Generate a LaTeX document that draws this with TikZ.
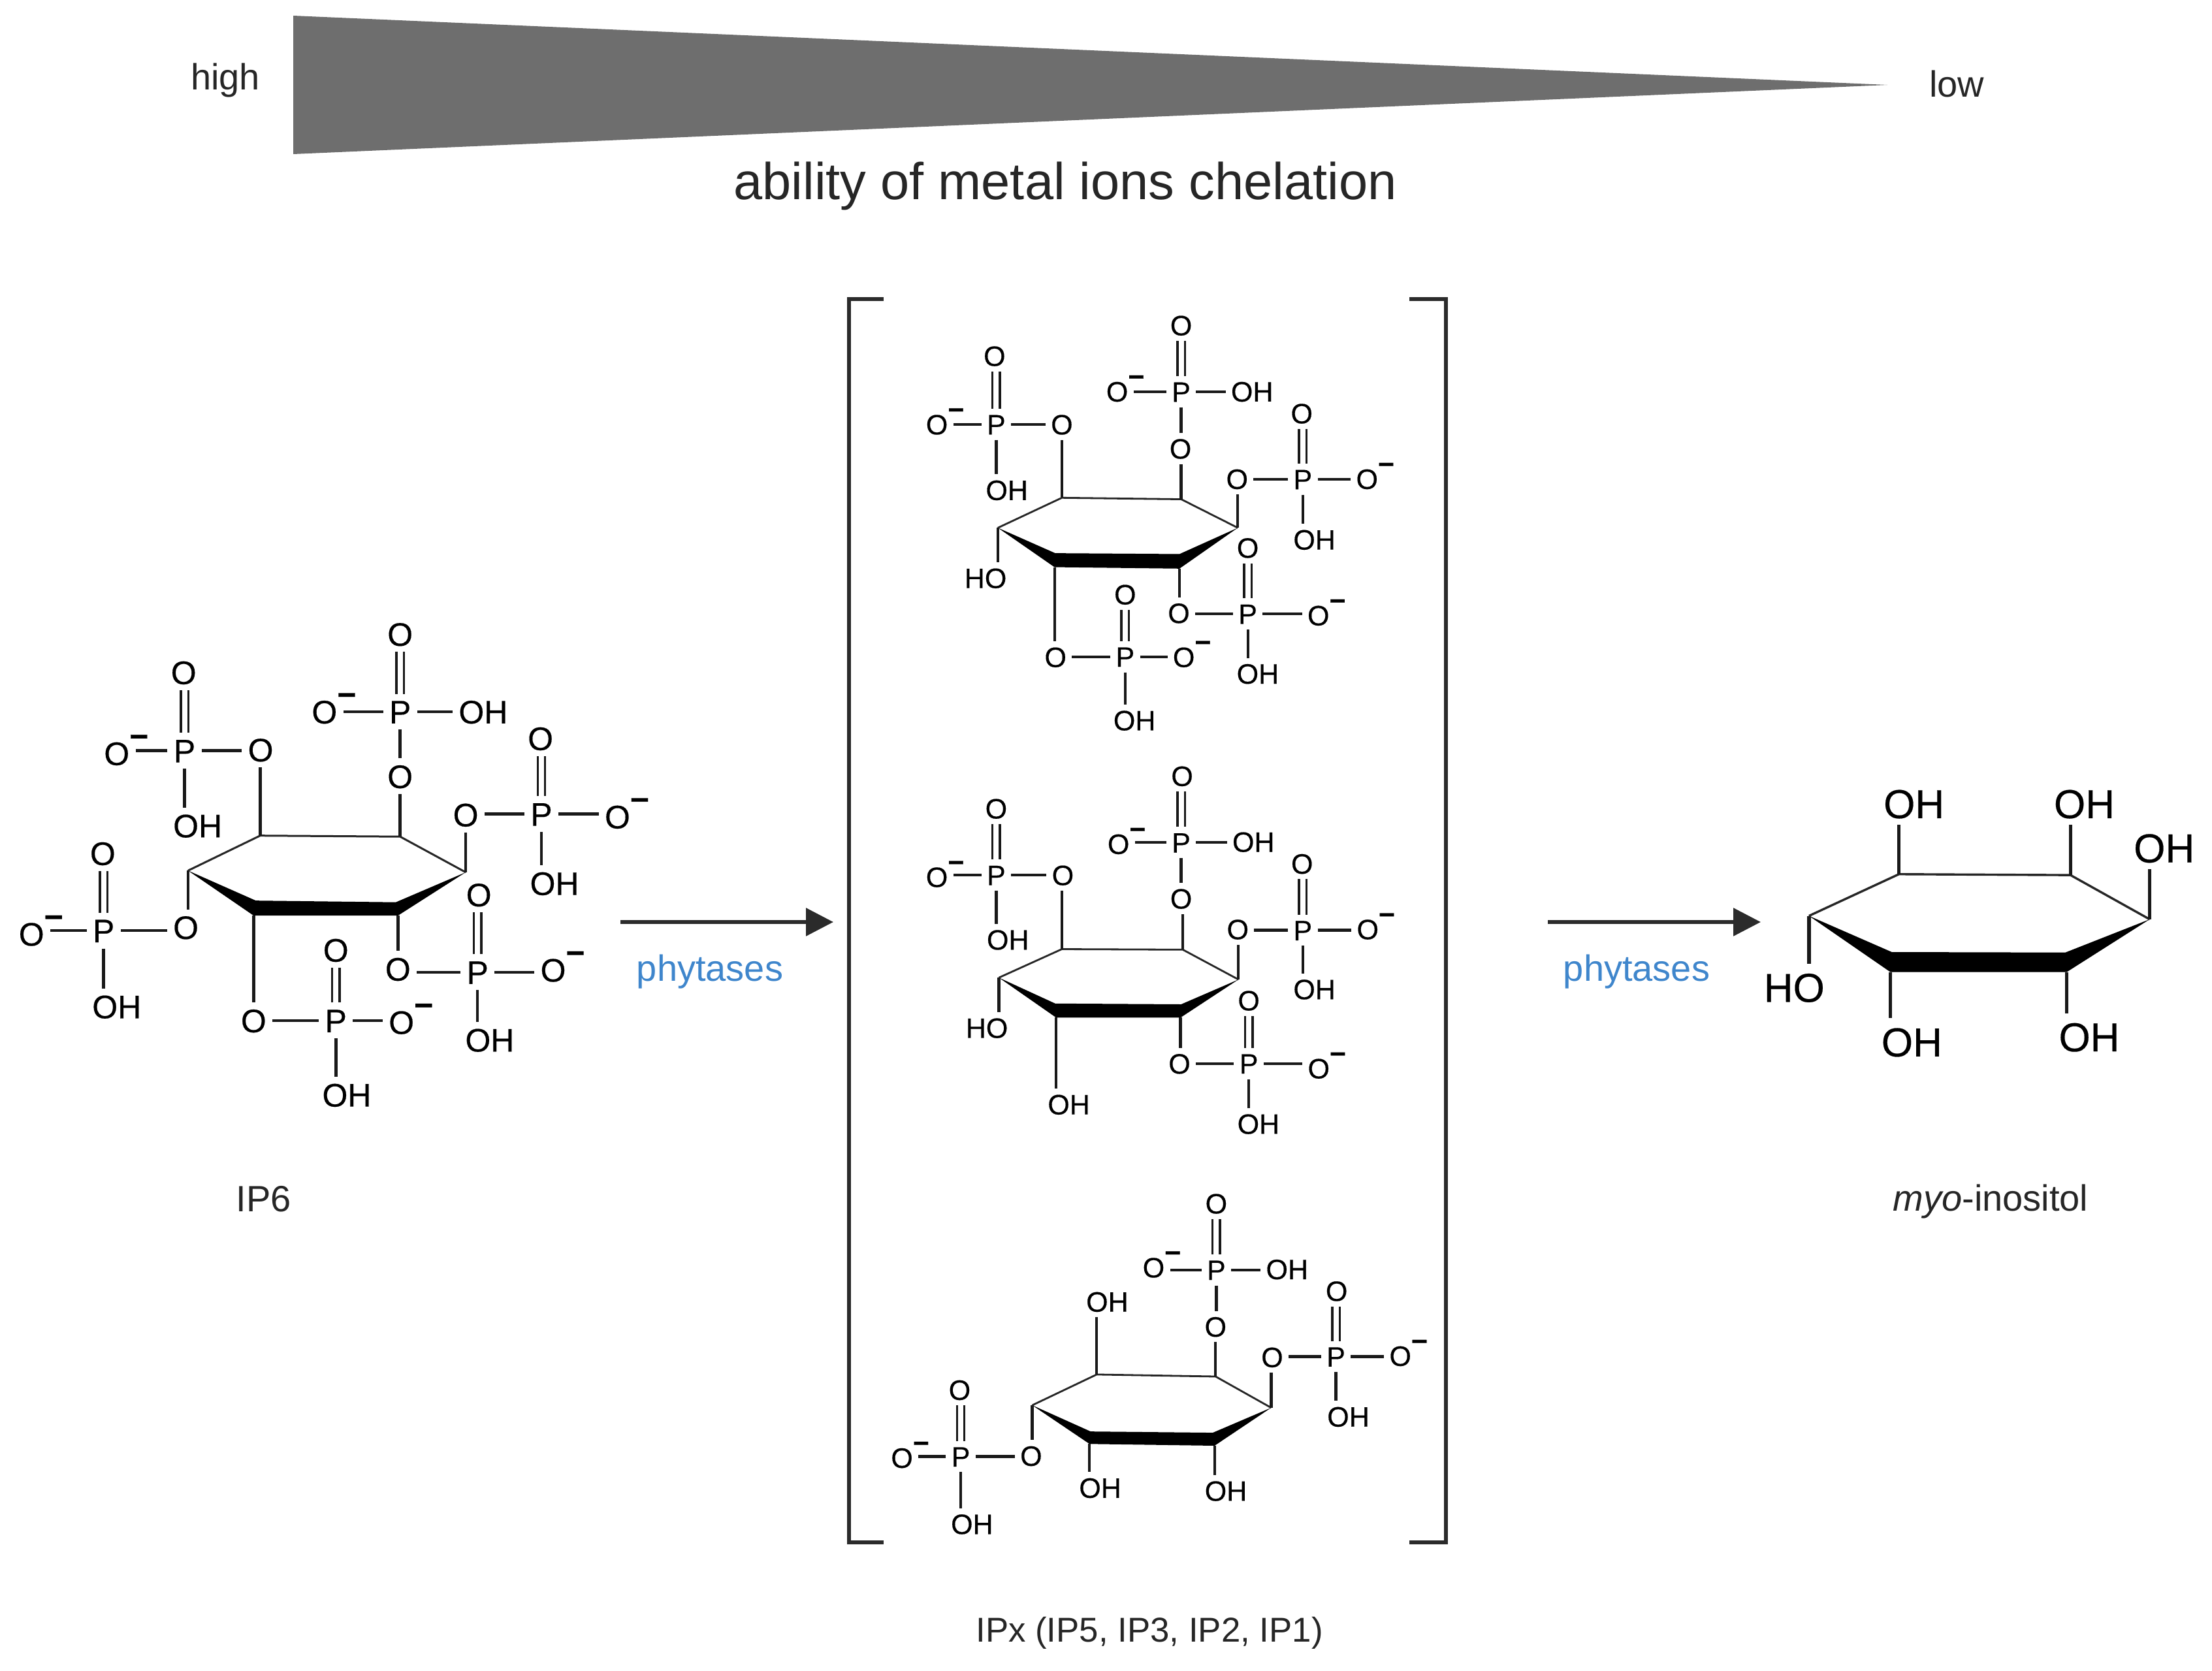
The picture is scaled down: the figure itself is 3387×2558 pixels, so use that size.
\documentclass[tikz,border=0pt]{standalone}
\usepackage{fontspec}
\setmainfont{Liberation Sans}
\newfontfamily\chemfont[FakeBold=0.35]{Liberation Sans}
\usetikzlibrary{arrows.meta}
\definecolor{wedgegray}{HTML}{6E6E6E}
\definecolor{inkdark}{HTML}{2B2B2B}
\definecolor{enzymeblue}{HTML}{3F86CC}
\newcommand\mOm{O\rlap{\raisebox{.54em}{\bfseries −}}}
\newcommand\mAtm[3]{\node[atom] (#1) at (#2) {#3};}
\newcommand\mH[2]{\draw[bond] (#1) -- (#1 -| #2);}
\newcommand\mV[2]{\draw[bond] (#1) -- (#1 |- #2);}
\newcommand\mD[2]{\draw[bond,double,double distance=4pt,line width=1.7pt] (#1) -- (#1 |- #2);}
% prefix, P, =O, left pos, left text, right pos, right text, bottom pos, bottom text
\newcommand\mPh[9]{%
  \mAtm{#1P}{#2}{P}\mAtm{#1Q}{#3}{O}\mAtm{#1L}{#4}{#5}\mAtm{#1R}{#6}{#7}\mAtm{#1B}{#8}{#9}%
  \mD{#1P}{#1Q.south}\mH{#1P}{#1L.east}\mH{#1P}{#1R.west}\mV{#1P}{#1B.north}}
% prefix, a, b, c, d, etop, ebot, fbot, ftop
\newcommand\mRing[9]{%
  \coordinate (#1a) at (#2);\coordinate (#1b) at (#3);\coordinate (#1c) at (#4);\coordinate (#1d) at (#5);%
  \coordinate (#1et) at (#6);\coordinate (#1eb) at (#7);\coordinate (#1fb) at (#8);\coordinate (#1ft) at (#9);%
  \draw[ringbond] (#1a) -- (#1b) -- (#1c) -- (#1d);%
  \fill[black] (#1a) -- (#1ft) -- (#1et) -- (#1d) -- (#1eb) -- (#1fb) -- cycle;}
\tikzset{
  sizeA/.style={atom/.style={inner sep=4.5pt,text height=18pt,text depth=0pt,font=\chemfont\fontsize{25}{25}\selectfont},
                bond/.style={line width=2.3pt,draw=black!90},ringbond/.style={line width=1.5pt,draw=black!85}},
  sizeB/.style={atom/.style={inner sep=4pt,text height=15.5pt,text depth=0pt,font=\chemfont\fontsize{21.5}{21.5}\selectfont},
                bond/.style={line width=2.1pt,draw=black!90},ringbond/.style={line width=1.4pt,draw=black!85}},
  sizeC/.style={atom/.style={inner sep=5pt,text height=24pt,text depth=0pt,font=\chemfont\fontsize{31}{31}\selectfont},
                bond/.style={line width=2.8pt,draw=black!90},ringbond/.style={line width=1.7pt,draw=black!85}},
  lab/.style={font=\fontsize{28}{28}\selectfont,text=black!85,inner sep=0pt},
  enz/.style={font=\fontsize{28}{28}\selectfont,text=enzymeblue,inner sep=0pt},
  rxn/.style={line width=3pt,draw=inkdark,-{Triangle[length=21pt,width=21pt,fill=inkdark]}},
  brk/.style={line width=3.4pt,draw=inkdark},
}
\begin{document}
\begin{tikzpicture}[x=0.5pt,y=-0.5pt]
\useasboundingbox (0,0) rectangle (3387,2558);
% chelation wedge
\fill[wedgegray] (449,24) -- (2890,130) -- (449,236) -- cycle;
\node[lab] (high) at (345,123) {high};
\node[lab] (low) at (2996,128) {low};
\node[lab,font=\fontsize{39.7}{39.7}\selectfont] (ability) at (1631,285) {ability of metal ions chelation};
% labels
\node[lab] (ip6) at (404,1836) {IP6};
\node[lab] (myo) at (3048,1840) {\textit{myo}-inositol};
\node[lab,font=\fontsize{26.4}{26.4}\selectfont] (ipx) at (1760,2501) {IPx (IP5, IP3, IP2, IP1)};
\node[enz] (ph1) at (1087,1488) {phytases};
\node[enz] (ph2) at (2506,1488) {phytases};
% arrows
\coordinate (a1s) at (950,1412);\coordinate (a1e) at (1276,1412);
\coordinate (a2s) at (2370,1412);\coordinate (a2e) at (2696,1412);
\draw[rxn] (a1s) -- (a1e);
\draw[rxn] (a2s) -- (a2e);
% brackets
\coordinate (bl1) at (1353,458);\coordinate (bl2) at (1300,458);\coordinate (bl3) at (1300,2362);\coordinate (bl4) at (1353,2362);
\coordinate (br1) at (2158,458);\coordinate (br2) at (2214,458);\coordinate (br3) at (2214,2362);\coordinate (br4) at (2158,2362);
\draw[brk] (bl1) -- (bl2) -- (bl3) -- (bl4);
\draw[brk] (br1) -- (br2) -- (br3) -- (br4);
% IP6
\begin{scope}[shift={(0,920)},x=0.3348pt,y=-0.2551pt,sizeA]
\mRing{m}{430,810}{595,705}{915,708}{1065,815}{905,905}{910,945}{580,945}{585,900}
\mPh{ma}{422,450}{420,215}{267,458}{\mOm}{596,447}{O}{452,675}{OH}
\mPh{mb}{915,333}{915,100}{742,333}{\mOm}{1105,333}{OH}{915,527}{O}
\mPh{mc}{1238,640}{1236,413}{1065,642}{O}{1412,648}{\mOm}{1268,848}{OH}
\mPh{md}{1092,1115}{1095,882}{910,1105}{O}{1265,1108}{\mOm}{1120,1318}{OH}
\mPh{me}{768,1260}{768,1048}{580,1260}{O}{918,1265}{\mOm}{793,1483}{OH}
\mPh{mf}{237,990}{235,758}{72,1000}{\mOm}{425,980}{O}{267,1218}{OH}
\mV{mb}{maR.south}\mV{mc}{mbB.south}\mV{md}{mcL.south}
\mV{meb}{mdL.north}\mV{mfb}{meL.north}\mV{ma}{mfR.north}
\end{scope}
% top IPx
\begin{scope}[shift={(1380,440)},x=0.2551pt,y=-0.2232pt,sizeB]
\mRing{n}{290,825}{482,722}{840,727}{1010,825}{835,915}{835,965}{460,960}{462,912}
\mPh{na}{285,470}{280,235}{107,470}{\mOm}{482,470}{O}{317,695}{OH}
\mPh{nb}{840,358}{840,130}{648,357}{\mOm}{1053,357}{OH}{838,553}{O}
\mPh{nc}{1205,658}{1202,432}{1008,657}{O}{1398,657}{\mOm}{1240,865}{OH}
\mPh{nd}{1040,1120}{1040,893}{833,1117}{O}{1252,1125}{\mOm}{1070,1325}{OH}
\mPh{ne}{672,1267}{672,1053}{463,1268}{O}{848,1268}{\mOm}{700,1485}{OH}
\mAtm{nho}{253,997}{HO}
\mV{nb}{naR.south}\mV{nc}{nbB.south}\mV{nd}{ncL.south}
\mV{neb}{ndL.north}\mV{nfb}{neL.north}\mV{na}{nho.north}
\end{scope}
% middle IPx
\begin{scope}[shift={(1380,1140)},x=0.2551pt,y=-0.2041pt,sizeB]
\mRing{p}{293,875}{482,768}{845,770}{1012,882}{840,975}{838,1025}{465,1025}{462,972}
\mPh{pa}{285,490}{285,240}{107,497}{\mOm}{485,490}{O}{320,732}{OH}
\mPh{pb}{840,368}{843,118}{652,373}{\mOm}{1057,365}{OH}{840,578}{O}
\mPh{pc}{1205,697}{1203,447}{1010,693}{O}{1400,693}{\mOm}{1240,918}{OH}
\mPh{pd}{1043,1197}{1043,960}{835,1197}{O}{1253,1215}{\mOm}{1072,1423}{OH}
\mAtm{poh}{503,1350}{OH}\mAtm{pho}{257,1063}{HO}
\mV{pb}{paR.south}\mV{pc}{pbB.south}\mV{pd}{pcL.south}
\mV{peb}{pdL.north}\mV{pfb}{poh.north}\mV{pa}{pho.north}
\end{scope}
% lower IPx
\begin{scope}[shift={(1380,1800)},x=0.2710pt,y=-0.1913pt,sizeB]
\mRing{q}{370,920}{552,797}{888,805}{1045,930}{880,1030}{885,1082}{532,1075}{535,1025}
\mPh{qa}{890,378}{890,112}{713,368}{\mOm}{1090,375}{OH}{888,605}{O}
\mPh{qb}{1228,725}{1230,462}{1048,727}{O}{1410,722}{\mOm}{1263,965}{OH}
\mPh{qc}{168,1125}{165,858}{2,1130}{\mOm}{367,1122}{O}{200,1395}{OH}
\mAtm{qt}{582,505}{OH}\mAtm{ql}{562,1250}{OH}\mAtm{qr}{917,1262}{OH}
\mV{qc}{qaB.south}\mV{qd}{qbL.south}\mV{qa}{qcR.north}
\mV{qb}{qt.south}\mV{qfb}{ql.north}\mV{qeb}{qr.north}
\end{scope}
% myo-inositol
\begin{scope}[shift={(2650,1150)},x=0.2350pt,y=-0.1754pt,sizeC]
\mRing{r}{255,720}{548,538}{1107,542}{1365,735}{1090,880}{1095,965}{520,965}{525,878}
\mAtm{roa}{207,1027}{HO}\mAtm{rob}{597,225}{OH}\mAtm{roc}{1152,225}{OH}
\mAtm{rod}{1412,418}{OH}\mAtm{rof}{590,1265}{OH}\mAtm{roe}{1168,1243}{OH}
\mV{ra}{roa.north}\mV{rb}{rob.south}\mV{rc}{roc.south}
\mV{rd}{rod.south}\mV{rfb}{rof.north}\mV{reb}{roe.north}
\end{scope}
\end{tikzpicture}
\end{document}
